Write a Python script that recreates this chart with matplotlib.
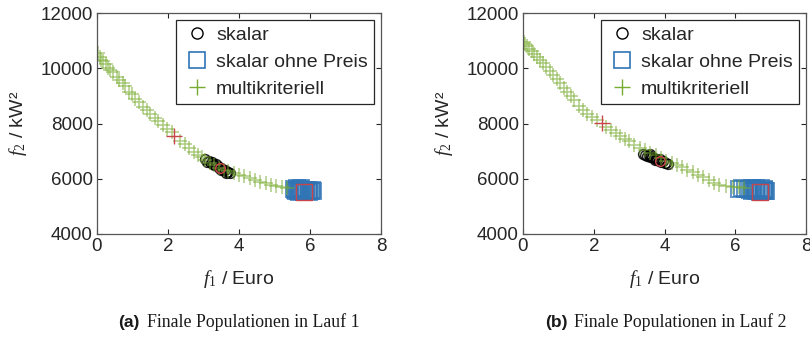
import matplotlib
matplotlib.use("Agg")
import matplotlib.pyplot as plt
from matplotlib.lines import Line2D

plt.rcParams['font.family'] = ['Liberation Sans', 'DejaVu Sans']
plt.rcParams['mathtext.fontset'] = 'custom'
plt.rcParams['mathtext.rm'] = 'Liberation Serif'
plt.rcParams['mathtext.it'] = 'Liberation Serif:italic'

# ---------------- data: run 1 ----------------
multi1_x = [0.02, 0.08, 0.12, 0.18, 0.25, 0.32, 0.38, 0.45, 0.55, 0.62, 0.72, 0.80, 0.90, 0.98,
            1.08, 1.18, 1.30, 1.40, 1.50, 1.62, 1.72, 1.85, 1.98, 2.10, 2.35, 2.48, 2.60, 2.72,
            2.85, 2.95, 3.05, 3.18, 3.30, 3.45, 3.58, 3.70, 3.85, 4.00, 4.15, 4.30, 4.45, 4.60,
            4.75, 4.90, 5.05, 5.20, 5.35]
multi1_y = [10550, 10400, 10300, 10250, 10150, 10000, 9950, 9850, 9700, 9580, 9450, 9350, 9150, 9080,
            8900, 8780, 8600, 8480, 8350, 8200, 8100, 7950, 7800, 7680, 7380, 7250, 7100, 6980,
            6870, 6780, 6680, 6570, 6480, 6400, 6330, 6280, 6200, 6150, 6100, 6020, 5950, 5900,
            5850, 5780, 5730, 5690, 5650]
skalar1_x = [3.05, 3.10, 3.15, 3.20, 3.25, 3.30, 3.35, 3.40, 3.45, 3.50, 3.55, 3.60, 3.65, 3.70,
             3.75, 3.62, 3.48, 3.28]
skalar1_y = [6700, 6620, 6650, 6560, 6600, 6500, 6520, 6450, 6400, 6380, 6330, 6300, 6260, 6240,
             6200, 6220, 6330, 6550]
ohne1_x = [5.55, 5.58, 5.62, 5.65, 5.68, 5.70, 5.72, 5.75, 5.78, 5.80, 5.83, 5.86, 5.88, 5.90,
           5.93, 5.96, 5.98, 6.02, 6.05, 6.08, 5.60, 5.74]
ohne1_y = [5620, 5580, 5650, 5560, 5600, 5530, 5640, 5580, 5540, 5610, 5520, 5570, 5600, 5540,
           5580, 5520, 5560, 5550, 5580, 5540, 5540, 5660]
best1 = {"skalar": (3.46, 6400), "ohne": (5.83, 5510), "multi": (2.18, 7560)}

# ---------------- data: run 2 ----------------
multi2_x = [0.02, 0.06, 0.12, 0.18, 0.25, 0.32, 0.40, 0.48, 0.56, 0.65, 0.75, 0.85, 0.95, 1.05,
            1.15, 1.25, 1.35, 1.45, 1.58, 1.70, 1.82, 1.95, 2.08, 2.35, 2.48, 2.62, 2.75, 2.88,
            3.00, 3.15, 3.30, 3.45, 3.60, 3.75, 3.90, 4.05, 4.20, 4.35, 4.50, 4.65, 4.80, 4.95,
            5.10, 5.25, 5.40, 5.55, 5.75, 5.95, 6.10, 6.25]
multi2_y = [10950, 10880, 10800, 10700, 10620, 10500, 10400, 10300, 10180, 10050, 9900, 9750, 9600, 9450,
            9300, 9130, 8980, 8840, 8650, 8500, 8350, 8250, 8130, 7880, 7760, 7650, 7540, 7440,
            7360, 7230, 7110, 7030, 6940, 6850, 6740, 6650, 6570, 6500, 6420, 6330, 6230, 6130,
            6050, 5950, 5840, 5760, 5720, 5700, 5690, 5680]
skalar2_x = [3.40, 3.45, 3.50, 3.55, 3.60, 3.65, 3.70, 3.75, 3.80, 3.85, 3.90, 3.95, 4.00, 4.05,
             4.10, 3.58, 3.72, 3.88]
skalar2_y = [6900, 6870, 6820, 6850, 6780, 6800, 6740, 6700, 6720, 6650, 6620, 6640, 6580, 6560,
             6530, 6880, 6680, 6700]
ohne2_x = [6.12, 6.20, 6.28, 6.36, 6.42, 6.46, 6.50, 6.54, 6.58, 6.62, 6.66, 6.70, 6.74, 6.78,
           6.82, 6.85, 6.88, 6.48, 6.60, 6.72, 6.80]
ohne2_y = [5640, 5650, 5630, 5620, 5600, 5560, 5620, 5580, 5540, 5600, 5560, 5530, 5590, 5550,
           5600, 5540, 5570, 5650, 5660, 5650, 5640]
best2 = {"skalar": (3.87, 6640), "ohne": (6.69, 5525), "multi": (2.22, 8030)}

legend_labels = ["skalar", "skalar ohne Preis", "multikriteriell"]
xticks = [0, 2, 4, 6, 8]
yticks = [4000, 6000, 8000, 10000, 12000]
captions = [("(a)", "Finale Populationen in Lauf 1"), ("(b)", "Finale Populationen in Lauf 2")]

GREEN = '#77AC30'
BLUE = '#2f74b5'
RED = '#c8464a'
AXC = '#262626'

fig = plt.figure(figsize=(8.10, 3.43), dpi=100)
axes_rect = [[97 / 810, 109 / 343, 284 / 810, 221 / 343],
             [523 / 810, 109 / 343, 283 / 810, 221 / 343]]

runs = [(multi1_x, multi1_y, skalar1_x, skalar1_y, ohne1_x, ohne1_y, best1),
        (multi2_x, multi2_y, skalar2_x, skalar2_y, ohne2_x, ohne2_y, best2)]

for i, (mx, my, sx, sy, ox, oy, best) in enumerate(runs):
    ax = fig.add_axes(axes_rect[i])
    ax.plot(sx, sy, 'o', ls='none', mfc='none', mec='black', ms=7, mew=1.1, alpha=0.85)
    ax.plot(ox, oy, 's', ls='none', mfc='none', mec=BLUE, ms=11.5, mew=1.4, alpha=0.75)
    ax.plot(mx, my, '+', ls='none', color=GREEN, ms=10, mew=1.1, alpha=0.6)
    ax.plot(*best["skalar"], 'o', mfc='none', mec=RED, ms=7, mew=1.0)
    ax.plot(*best["ohne"], 's', mfc='none', mec=RED, ms=11, mew=1.0)
    ax.plot(*best["multi"], '+', color=RED, ms=11, mew=1.0)
    ax.set_xlim(0, 8)
    ax.set_ylim(4000, 12000)
    ax.set_xticks(xticks)
    ax.set_yticks(yticks)
    ax.tick_params(direction='in', top=True, right=True, length=3.5, width=0.8,
                   colors=AXC, labelsize=13.5, pad=3)
    for sp in ax.spines.values():
        sp.set_color('#555555')
        sp.set_linewidth(0.9)
    ax.set_xlabel(r'$f_1$ / Euro', fontsize=14, color=AXC, labelpad=9)
    ax.set_ylabel(r'$f_2$ / kW²', fontsize=14, color=AXC, labelpad=8)
    handles = [Line2D([], [], marker='o', ls='none', mfc='none', mec='black', ms=8, mew=1.0),
               Line2D([], [], marker='s', ls='none', mfc='none', mec=BLUE, ms=11, mew=1.2),
               Line2D([], [], marker='+', ls='none', color=GREEN, ms=12, mew=1.0)]
    leg = ax.legend(handles, legend_labels, loc='upper right', fontsize=14,
                    frameon=True, fancybox=False, edgecolor=AXC, framealpha=1,
                    borderaxespad=0.38, handletextpad=0.25, labelspacing=0.48,
                    borderpad=0.3, handlelength=1.5)
    leg.get_frame().set_linewidth(0.9)
    for t in leg.get_texts():
        t.set_color(AXC)

cap_x = [118 / 810, 545 / 810]
for i, (tag, txt) in enumerate(captions):
    fig.text(cap_x[i], 1 - 322 / 343, tag, fontsize=12.5, fontweight='bold',
             family=['Liberation Sans'], va='center', ha='left', color='#1a1a1a')
    fig.text(cap_x[i] + 29 / 810, 1 - 322 / 343, txt, fontsize=12.8,
             family=['Liberation Serif'], va='center', ha='left', color='#1a1a1a')

fig.savefig('out.png', dpi=100)
